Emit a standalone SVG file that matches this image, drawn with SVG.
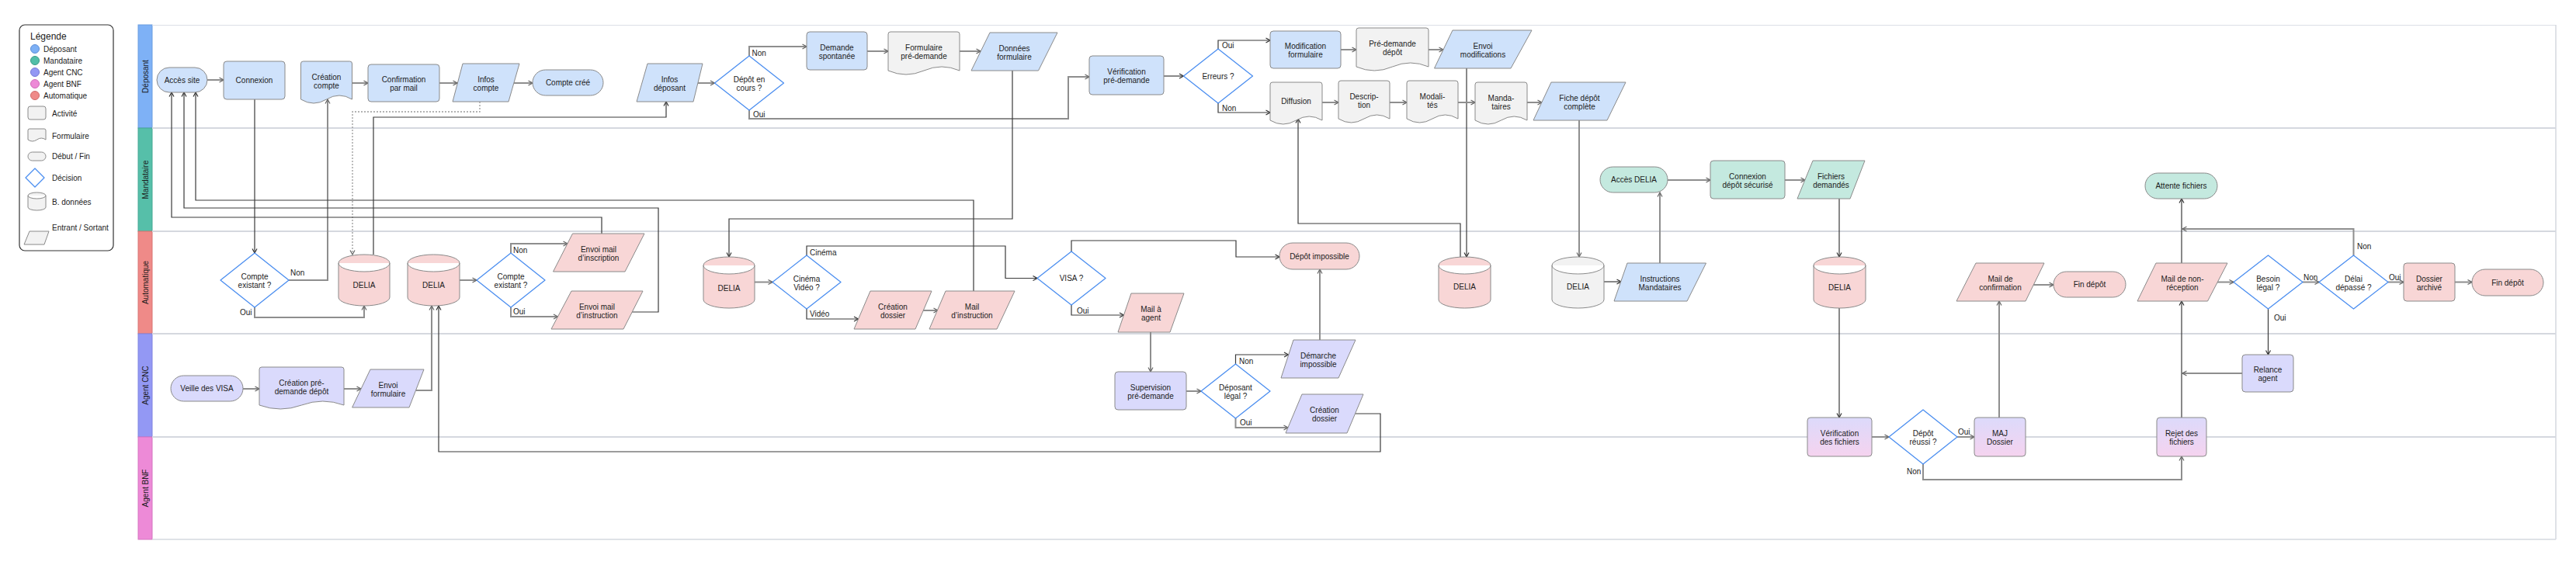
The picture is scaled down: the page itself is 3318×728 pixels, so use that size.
<svg xmlns="http://www.w3.org/2000/svg" width="3318" height="728" viewBox="0 0 3318 728">
<style>
text{font-family:"Liberation Sans",Arial,sans-serif;font-size:10px;fill:#1b1b1b}
.c{text-anchor:middle}
.nd{stroke:#8a8a8a;stroke-width:1}
.blue{fill:#cfe2fb}
.teal{fill:#c4e9df}
.pink{fill:#f8d6d6}
.lav{fill:#dadafc}
.gray{fill:#f2f2f2}
.grad{fill:url(#gr)}
.dia{fill:#fff;stroke:#4b8ef0;stroke-width:1.3;stroke-linejoin:round}
.g{fill:none;stroke:#8e8e8e;stroke-width:2;marker-end:url(#ag)}
.d{fill:none;stroke:#3a3a3a;stroke-width:1.2;marker-end:url(#ad)}
.o{fill:none;stroke:#9a9a9a;stroke-width:1.3;stroke-dasharray:2 2;marker-end:url(#ag)}
.lane{stroke:#d5d8df;stroke-width:2}
.lbl{font-size:10px}
</style>
<defs>
<marker id="ag" markerUnits="userSpaceOnUse" markerWidth="8" markerHeight="8" refX="7" refY="4" orient="auto" viewBox="0 0 8 8"><path d="M1.5,1 L7,4 L1.5,7" fill="none" stroke="#666" stroke-width="1.2"/></marker>
<marker id="ad" markerUnits="userSpaceOnUse" markerWidth="8" markerHeight="8" refX="7" refY="4" orient="auto" viewBox="0 0 8 8"><path d="M1.5,1 L7,4 L1.5,7" fill="none" stroke="#333" stroke-width="1.2"/></marker>
<linearGradient id="gr" x1="0" y1="0" x2="0" y2="1"><stop offset="0" stop-color="#dcdafb"/><stop offset="1" stop-color="#f5d3ef"/></linearGradient>
</defs>
<rect width="3318" height="728" fill="#fff"/>

<g id="legend">
<rect x="25" y="32" width="121" height="291" rx="7" fill="#fff" stroke="#333" stroke-width="1.2"/>
<text x="39" y="51" style="font-size:12px">Légende</text>
<circle cx="45" cy="63" r="5.5" fill="#7db0f5" stroke="#5d8fd8"/><text x="56" y="66.5">Déposant</text>
<circle cx="45" cy="78" r="5.5" fill="#52bea8" stroke="#3c9c88"/><text x="56" y="81.5">Mandataire</text>
<circle cx="45" cy="93" r="5.5" fill="#9398f4" stroke="#7479d6"/><text x="56" y="96.5">Agent CNC</text>
<circle cx="45" cy="108" r="5.5" fill="#ed8ad7" stroke="#cf6cb9"/><text x="56" y="111.5">Agent BNF</text>
<circle cx="45" cy="123" r="5.5" fill="#ef8a88" stroke="#d06b69"/><text x="56" y="126.5">Automatique</text>
<rect class="gray nd" x="36" y="137" width="23" height="17" rx="3"/><text x="67" y="149.5">Activité</text>
<path class="gray nd" d="M36,180 L36,168 Q36,166 38,166 L57,166 Q59,166 59,168 L59,180 Q53.25,176 47.5,180 T36,180 Z"/><text x="67" y="178.5">Formulaire</text>
<rect class="gray nd" x="36" y="196" width="23" height="11" rx="5.5"/><text x="67" y="204.5">Début / Fin</text>
<polygon class="dia" points="45,217 57,229 45,241 33,229"/><text x="67" y="232.5">Décision</text>
<path class="gray nd" d="M36,252 A11.5,4 0 0 1 59,252 L59,267 A11.5,4 0 0 1 36,267 Z M36,252 A11.5,4 0 0 0 59,252"/><text x="67" y="263.5">B. données</text>
<polygon class="gray nd" points="38,298 63,298 57,315 31,315"/><text x="67" y="296.5">Entrant / Sortant</text>
</g>

<g id="lanes">
<rect x="178" y="32" width="18" height="133" fill="#7eb1f6" stroke="#6a9de0"/>
<rect x="178" y="165" width="18" height="133" fill="#56bfa9" stroke="#44a893"/>
<rect x="178" y="298" width="18" height="132" fill="#ef8a88" stroke="#d87472"/>
<rect x="178" y="430" width="18" height="133" fill="#9398f4" stroke="#7e83e0"/>
<rect x="178" y="563" width="18" height="132" fill="#ed8ad7" stroke="#d575c0"/>
<text class="c" transform="translate(190.5,98.5) rotate(-90)">Déposant</text>
<text class="c" transform="translate(190.5,231.5) rotate(-90)">Mandataire</text>
<text class="c" transform="translate(190.5,364) rotate(-90)">Automatique</text>
<text class="c" transform="translate(190.5,496.5) rotate(-90)">Agent CNC</text>
<text class="c" transform="translate(190.5,629) rotate(-90)">Agent BNF</text>
<line x1="196" y1="32.5" x2="3292" y2="32.5" stroke="#dcdfe6" stroke-width="1"/>
<line class="lane" x1="196" y1="165" x2="3292" y2="165"/>
<line class="lane" x1="196" y1="298" x2="3292" y2="298"/>
<line class="lane" x1="196" y1="430" x2="3292" y2="430"/>
<line class="lane" x1="196" y1="563" x2="3292" y2="563"/>
<line x1="196" y1="695" x2="3292" y2="695" stroke="#d5d8df" stroke-width="1.5"/>
<line x1="3292" y1="32" x2="3292" y2="695" stroke="#d5d8df" stroke-width="1.5"/>
</g>

<g id="connectors">
<path class="g" d="M267,103 L288,103"/>
<path class="d" d="M328,128 L328,326"/>
<path class="g" d="M453.5,107 L474,107"/>
<path class="g" d="M566,107 L589,107"/>
<path class="g" d="M662,107 L686,107"/>
<path class="o" d="M618,131 L618,144 L454,144 L454,328"/>
<path class="d" d="M481,328 L481,151 L858,151 L858,131"/>
<path class="g" d="M372,361 L422,361 L422,128"/>
<path class="g" d="M328,396 L328,409 L469,409 L469,394"/>
<path class="d" d="M775,301 L775,280 L221,280 L221,119"/>
<path class="d" d="M814,402 L848,402 L848,268 L237,268 L237,119"/>
<path class="d" d="M1254,375 L1254,258 L252,258 L252,119"/>
<path class="g" d="M899,107 L920.5,107"/>
<path class="g" d="M965,72 L965,60 L1039,60"/>
<path class="g" d="M965,142 L965,153 L1376,153 L1376,99 L1403,99"/>
<path class="g" d="M1117,66 L1144,66"/>
<path class="g" d="M1236,66 L1263,66"/>
<path class="d" d="M1304,91 L1304,282 L939,282 L939,331"/>
<path class="d" d="M1499,98 L1524.5,98"/>
<path class="d" d="M1569,63 L1569,52 L1636,52"/>
<path class="d" d="M1569,133 L1569,145 L1636,145"/>
<path class="g" d="M1727,64 L1747,64"/>
<path class="g" d="M1840,64 L1859,64"/>
<path class="d" d="M1889,88 L1889,331"/>
<path class="d" d="M1881,331 L1881,288 L1672,288 L1672,153"/>
<path class="g" d="M1703,132 L1724,132"/>
<path class="g" d="M1790,132 L1812,132"/>
<path class="g" d="M1878,132 L1900,132"/>
<path class="g" d="M1967,132 L1986,132"/>
<path class="g" d="M2034,155 L2034,331"/>
<path class="d" d="M2066,363 L2088,363"/>
<path class="g" d="M2138,339 L2138,248"/>
<path class="g" d="M2148,232 L2203,232"/>
<path class="g" d="M2299,232 L2325,232"/>
<path class="d" d="M2369,256 L2369,331"/>
<path class="d" d="M2369,397 L2369,538"/>
<path class="g" d="M2411,563 L2433,563"/>
<path class="g" d="M2521,563 L2543,563"/>
<path class="g" d="M2477,598 L2477,618 L2810,618 L2810,588"/>
<path class="g" d="M2575,538 L2575,388"/>
<path class="g" d="M2619,367 L2645,367"/>
<path class="d" d="M2810,538 L2810,388"/>
<path class="d" d="M2810,339 L2810,256"/>
<path class="g" d="M2856,363.5 L2877,363.5"/>
<path class="g" d="M2966,363.5 L2987,363.5"/>
<path class="d" d="M2921.5,398 L2921.5,457"/>
<path class="g" d="M2888,481 L2811,481"/>
<path class="g" d="M3031.5,329 L3031.5,295 L2811,295"/>
<path class="g" d="M3076,363.5 L3096,363.5"/>
<path class="g" d="M3162,363.5 L3184,363.5"/>
<path class="g" d="M592,361 L614,361"/>
<path class="g" d="M658,326 L658,314 L731,314"/>
<path class="g" d="M658,396 L658,408 L718.5,408"/>
<path class="g" d="M535.5,503 L556,503 L556,394"/>
<path class="d" d="M1745.5,533 L1778,533 L1778,582 L565,582 L565,394"/>
<path class="g" d="M972,363.5 L995,363.5"/>
<path class="d" d="M1039,329 L1039,317 L1295,317 L1295,358.5 L1336,358.5"/>
<path class="d" d="M1039,398 L1039,411 L1105.5,411"/>
<path class="g" d="M1189,400 L1208,400"/>
<path class="d" d="M1380,324 L1380,310 L1592,310 L1592,331 L1648,331"/>
<path class="d" d="M1380,393 L1380,406 L1447.5,406"/>
<path class="g" d="M1482,428 L1482,479"/>
<path class="g" d="M1528,504 L1547,504"/>
<path class="d" d="M1591.5,469 L1591.5,457 L1659.5,457"/>
<path class="g" d="M1591.5,539 L1591.5,551 L1659,551"/>
<path class="g" d="M1700,438 L1700,347"/>
<path class="g" d="M313,501 L334,501"/>
<path class="g" d="M443,501 L465,501"/>
<text class="lbl" x="374" y="354.5">Non</text>
<text class="lbl" x="309" y="405.5">Oui</text>
<text class="lbl" x="968.5" y="71.5">Non</text>
<text class="lbl" x="970" y="150.5">Oui</text>
<text class="lbl" x="1574" y="61.5">Oui</text>
<text class="lbl" x="1574" y="142.5">Non</text>
<text class="lbl" x="661" y="325.5">Non</text>
<text class="lbl" x="661" y="404.5">Oui</text>
<text class="lbl" x="1043" y="328.5">Cinéma</text>
<text class="lbl" x="1043" y="407.5">Vidéo</text>
<text class="lbl" x="1387" y="403.5">Oui</text>
<text class="lbl" x="1596" y="468.5">Non</text>
<text class="lbl" x="1597" y="547.5">Oui</text>
<text class="lbl" x="2522" y="559.5">Oui</text>
<text class="lbl" x="2456" y="610.5">Non</text>
<text class="lbl" x="2967" y="360.5">Non</text>
<text class="lbl" x="2929" y="412.5">Oui</text>
<text class="lbl" x="3036" y="320.5">Non</text>
<text class="lbl" x="3077" y="360.5">Oui</text>
</g>

<g id="n-acces-site"><rect class="blue nd" x="202" y="87" width="65" height="32" rx="16"/><text class="c" x="234.5" y="106.5">Accès site</text></g>
<g id="n-connexion"><rect class="blue nd" x="288" y="79" width="79" height="49" rx="4"/><text class="c" x="327.5" y="107">Connexion</text></g>
<g id="n-creation-compte"><path class="blue nd" d="M387.5,128 L387.5,82 Q387.5,79 390.5,79 L450.5,79 Q453.5,79 453.5,82 L453.5,128 Q437,118 420.5,128 T387.5,128 Z"/><text class="c" x="420.5" y="102.5">Création<tspan x="420.5" y="113.5">compte</tspan></text></g>
<g id="n-confirmation"><rect class="blue nd" x="474" y="83" width="92" height="48" rx="4"/><text class="c" x="520" y="106">Confirmation<tspan x="520" y="117">par mail</tspan></text></g>
<g id="n-infos-compte"><polygon class="blue nd" points="596,82 669,82 655,131 583,131"/><text class="c" x="626" y="105.5">Infos<tspan x="626" y="116.5">compte</tspan></text></g>
<g id="n-compte-cree"><rect class="blue nd" x="686" y="90" width="91" height="33" rx="16.5"/><text class="c" x="731.5" y="110">Compte créé</text></g>
<g id="n-infos-deposant"><polygon class="blue nd" points="834,82 905,82 893,131 820,131"/><text class="c" x="862.5" y="105.5">Infos<tspan x="862.5" y="116.5">déposant</tspan></text></g>
<g id="n-depot-en-cours"><polygon class="dia" points="965,72 1009.5,107 965,142 920.5,107"/><text class="c" x="965" y="106">Dépôt en<tspan x="965" y="117">cours ?</tspan></text></g>
<g id="n-demande-spontanee"><rect class="blue nd" x="1039" y="41" width="78" height="49" rx="4"/><text class="c" x="1078" y="64.5">Demande<tspan x="1078" y="75.5">spontanée</tspan></text></g>
<g id="n-formulaire-pre"><path class="gray nd" d="M1144,91 L1144,44 Q1144,41 1147,41 L1233,41 Q1236,41 1236,44 L1236,91 Q1213,81 1190,91 T1144,91 Z"/><text class="c" x="1190" y="65">Formulaire<tspan x="1190" y="76">pré-demande</tspan></text></g>
<g id="n-donnees"><polygon class="blue nd" points="1275,42 1362,42 1337.5,91 1251,91"/><text class="c" x="1306.5" y="65.5">Données<tspan x="1306.5" y="76.5">formulaire</tspan></text></g>
<g id="n-verif-pre"><rect class="blue nd" x="1403" y="72" width="96" height="50" rx="4"/><text class="c" x="1451" y="96">Vérification<tspan x="1451" y="107">pré-demande</tspan></text></g>
<g id="n-erreurs"><polygon class="dia" points="1569,63 1613.5,98 1569,133 1524.5,98"/><text class="c" x="1569" y="101.5">Erreurs ?</text></g>
<g id="n-modif-form"><rect class="blue nd" x="1636" y="40" width="91" height="48" rx="4"/><text class="c" x="1681.5" y="63">Modification<tspan x="1681.5" y="74">formulaire</tspan></text></g>
<g id="n-pre-demande-depot"><path class="gray nd" d="M1747,86 L1747,39 Q1747,36 1750,36 L1837,36 Q1840,36 1840,39 L1840,86 Q1816.75,76 1793.5,86 T1747,86 Z"/><text class="c" x="1793.5" y="60">Pré-demande<tspan x="1793.5" y="71">dépôt</tspan></text></g>
<g id="n-envoi-modifs"><polygon class="blue nd" points="1871,39 1973,39 1946,88 1847.5,88"/><text class="c" x="1910" y="62.5">Envoi<tspan x="1910" y="73.5">modifications</tspan></text></g>
<g id="n-diffusion"><path class="gray nd" d="M1636,155 L1636,109 Q1636,106 1639,106 L1700,106 Q1703,106 1703,109 L1703,155 Q1686.25,145 1669.5,155 T1636,155 Z"/><text class="c" x="1669.5" y="134">Diffusion</text></g>
<g id="n-description"><path class="gray nd" d="M1724,153 L1724,107 Q1724,104 1727,104 L1787,104 Q1790,104 1790,107 L1790,153 Q1773.5,143 1757,153 T1724,153 Z"/><text class="c" x="1757" y="127.5">Descrip-<tspan x="1757" y="138.5">tion</tspan></text></g>
<g id="n-modalites"><path class="gray nd" d="M1812,153 L1812,107 Q1812,104 1815,104 L1875,104 Q1878,104 1878,107 L1878,153 Q1861.5,143 1845,153 T1812,153 Z"/><text class="c" x="1845" y="127.5">Modali-<tspan x="1845" y="138.5">tés</tspan></text></g>
<g id="n-mandataires"><path class="gray nd" d="M1900,155 L1900,109 Q1900,106 1903,106 L1964,106 Q1967,106 1967,109 L1967,155 Q1950.25,145 1933.5,155 T1900,155 Z"/><text class="c" x="1933.5" y="129.5">Manda-<tspan x="1933.5" y="140.5">taires</tspan></text></g>
<g id="n-fiche-depot"><polygon class="blue nd" points="1998,106 2094,106 2070,155 1975,155"/><text class="c" x="2034.5" y="129.5">Fiche dépôt<tspan x="2034.5" y="140.5">complète</tspan></text></g>

<g id="n-acces-delia"><rect class="teal nd" x="2061" y="215" width="87" height="33" rx="16.5"/><text class="c" x="2104.5" y="235">Accès DELIA</text></g>
<g id="n-connexion-depot"><rect class="teal nd" x="2203" y="207" width="96" height="49" rx="4"/><text class="c" x="2251" y="230.5">Connexion<tspan x="2251" y="241.5">dépôt sécurisé</tspan></text></g>
<g id="n-fichiers-demandes"><polygon class="teal nd" points="2335,207 2402,207 2383,256 2315,256"/><text class="c" x="2358.5" y="230.5">Fichiers<tspan x="2358.5" y="241.5">demandés</tspan></text></g>
<g id="n-attente-fichiers"><rect class="teal nd" x="2763" y="223" width="93" height="33" rx="16.5"/><text class="c" x="2809.5" y="243">Attente fichiers</text></g>

<g id="n-compte-existant-1"><polygon class="dia" points="328,326 372,361 328,396 284,361"/><text class="c" x="328" y="360">Compte<tspan x="328" y="371">existant ?</tspan></text></g>
<g id="n-delia-1"><path class="pink nd" d="M436,339 A33,11 0 0 1 502,339 L502,383 A33,11 0 0 1 436,383 Z M436,339 A33,11 0 0 0 502,339"/><text class="c" x="469" y="371">DELIA</text></g>
<g id="n-delia-2"><path class="pink nd" d="M525,339 A33.5,11 0 0 1 592,339 L592,383 A33.5,11 0 0 1 525,383 Z M525,339 A33.5,11 0 0 0 592,339"/><text class="c" x="558.5" y="371">DELIA</text></g>
<g id="n-compte-existant-2"><polygon class="dia" points="658,326 702,361 658,396 614,361"/><text class="c" x="658" y="360">Compte<tspan x="658" y="371">existant ?</tspan></text></g>
<g id="n-envoi-mail-inscription"><polygon class="pink nd" points="737.5,301 830,301 805,350 712.5,350"/><text class="c" x="771" y="324.5">Envoi mail<tspan x="771" y="335.5">d’inscription</tspan></text></g>
<g id="n-envoi-mail-instruction"><polygon class="pink nd" points="736,375 828,375 803,424 710,424"/><text class="c" x="769" y="398.5">Envoi mail<tspan x="769" y="409.5">d’instruction</tspan></text></g>
<g id="n-delia-3"><path class="pink nd" d="M906,342 A33,11 0 0 1 972,342 L972,386 A33,11 0 0 1 906,386 Z M906,342 A33,11 0 0 0 972,342"/><text class="c" x="939" y="374.5">DELIA</text></g>
<g id="n-cinema-video"><polygon class="dia" points="1039,329 1083,363.5 1039,398 995,363.5"/><text class="c" x="1039" y="362.5">Cinéma<tspan x="1039" y="373.5">Vidéo ?</tspan></text></g>
<g id="n-creation-dossier-auto"><polygon class="pink nd" points="1121,375 1200,375 1179,424 1100,424"/><text class="c" x="1150" y="398.5">Création<tspan x="1150" y="409.5">dossier</tspan></text></g>
<g id="n-mail-instruction"><polygon class="pink nd" points="1218,375 1307,375 1284,424 1197,424"/><text class="c" x="1252" y="398.5">Mail<tspan x="1252" y="409.5">d’instruction</tspan></text></g>
<g id="n-visa"><polygon class="dia" points="1380,324 1424,358.5 1380,393 1336,358.5"/><text class="c" x="1380" y="362">VISA ?</text></g>
<g id="n-mail-agent"><polygon class="pink nd" points="1457,378 1525,378 1507,428 1440,428"/><text class="c" x="1482.5" y="402">Mail à<tspan x="1482.5" y="413">agent</tspan></text></g>
<g id="n-depot-impossible"><rect class="pink nd" x="1648" y="313" width="103" height="34" rx="17"/><text class="c" x="1699.5" y="333.5">Dépôt impossible</text></g>
<g id="n-delia-4"><path class="pink nd" d="M1853,342 A33.5,11 0 0 1 1920,342 L1920,386 A33.5,11 0 0 1 1853,386 Z M1853,342 A33.5,11 0 0 0 1920,342"/><text class="c" x="1886.5" y="373">DELIA</text></g>
<g id="n-delia-5"><path class="gray nd" d="M1999,342 A33.5,11 0 0 1 2066,342 L2066,386 A33.5,11 0 0 1 1999,386 Z M1999,342 A33.5,11 0 0 0 2066,342"/><text class="c" x="2032.5" y="373">DELIA</text></g>
<g id="n-instructions-mandataires"><polygon class="blue nd" points="2096,339 2197.5,339 2173,388 2079,388"/><text class="c" x="2138" y="362.5">Instructions<tspan x="2138" y="373.5">Mandataires</tspan></text></g>
<g id="n-delia-6"><path class="pink nd" d="M2336,342 A33.5,11 0 0 1 2403,342 L2403,386 A33.5,11 0 0 1 2336,386 Z M2336,342 A33.5,11 0 0 0 2403,342"/><text class="c" x="2369.5" y="374">DELIA</text></g>
<g id="n-mail-confirmation"><polygon class="pink nd" points="2545,339 2633,339 2609,388 2520,388"/><text class="c" x="2576.5" y="362.5">Mail de<tspan x="2576.5" y="373.5">confirmation</tspan></text></g>
<g id="n-fin-depot-1"><rect class="pink nd" x="2645" y="350" width="93" height="33" rx="16.5"/><text class="c" x="2691.5" y="370">Fin dépôt</text></g>
<g id="n-mail-non-reception"><polygon class="pink nd" points="2777,339 2869,339 2843.5,388 2753,388"/><text class="c" x="2811" y="362.5">Mail de non-<tspan x="2811" y="373.5">réception</tspan></text></g>
<g id="n-besoin-legal"><polygon class="dia" points="2921.5,329 2966,363.5 2921.5,398 2877,363.5"/><text class="c" x="2921.5" y="362.5">Besoin<tspan x="2921.5" y="373.5">légal ?</tspan></text></g>
<g id="n-delai"><polygon class="dia" points="3031.5,329 3076,363.5 3031.5,398 2987,363.5"/><text class="c" x="3031.5" y="362.5">Délai<tspan x="3031.5" y="373.5">dépassé ?</tspan></text></g>
<g id="n-dossier-archive"><rect class="pink nd" x="3096" y="339" width="66" height="49" rx="4"/><text class="c" x="3129" y="362.5">Dossier<tspan x="3129" y="373.5">archivé</tspan></text></g>
<g id="n-fin-depot-2"><rect class="pink nd" x="3184" y="347" width="92" height="34" rx="17"/><text class="c" x="3230" y="367.5">Fin dépôt</text></g>

<g id="n-veille-visa"><rect class="lav nd" x="220" y="484" width="93" height="33" rx="16.5"/><text class="c" x="266.5" y="504">Veille des VISA</text></g>
<g id="n-creation-pre-demande"><path class="lav nd" d="M334,522 L334,476 Q334,473 337,473 L440,473 Q443,473 443,476 L443,522 Q415.75,512 388.5,522 T334,522 Z"/><text class="c" x="388.5" y="496.5">Création pré-<tspan x="388.5" y="507.5">demande dépôt</tspan></text></g>
<g id="n-envoi-formulaire"><polygon class="lav nd" points="477,476 546,476 527,525 453.6,525"/><text class="c" x="500" y="499.5">Envoi<tspan x="500" y="510.5">formulaire</tspan></text></g>
<g id="n-supervision"><rect class="lav nd" x="1436" y="479" width="92" height="49" rx="4"/><text class="c" x="1482" y="502.5">Supervision<tspan x="1482" y="513.5">pré-demande</tspan></text></g>
<g id="n-deposant-legal"><polygon class="dia" points="1591.5,469 1636,504 1591.5,539 1547,504"/><text class="c" x="1591.5" y="503">Déposant<tspan x="1591.5" y="514">légal ?</tspan></text></g>
<g id="n-demarche-impossible"><polygon class="lav nd" points="1666,438 1746,438 1724,487 1650,487"/><text class="c" x="1698" y="461.5">Démarche<tspan x="1698" y="472.5">impossible</tspan></text></g>
<g id="n-creation-dossier-cnc"><polygon class="lav nd" points="1677,508 1756,508 1735,558 1656,558"/><text class="c" x="1706" y="532">Création<tspan x="1706" y="543">dossier</tspan></text></g>
<g id="n-relance-agent"><rect class="lav nd" x="2888" y="457" width="66" height="48" rx="4"/><text class="c" x="2921" y="480">Relance<tspan x="2921" y="491">agent</tspan></text></g>

<g id="n-verif-fichiers"><rect class="grad nd" x="2328" y="538" width="83" height="50" rx="4"/><text class="c" x="2369.5" y="562">Vérification<tspan x="2369.5" y="573">des fichiers</tspan></text></g>
<g id="n-depot-reussi"><polygon class="dia" points="2477,528 2521,563 2477,598 2433,563"/><text class="c" x="2477" y="562">Dépôt<tspan x="2477" y="573">réussi ?</tspan></text></g>
<g id="n-maj-dossier"><rect class="grad nd" x="2543" y="538" width="66" height="50" rx="4"/><text class="c" x="2576" y="562">MAJ<tspan x="2576" y="573">Dossier</tspan></text></g>
<g id="n-rejet-fichiers"><rect class="grad nd" x="2778" y="538" width="64" height="50" rx="4"/><text class="c" x="2810" y="562">Rejet des<tspan x="2810" y="573">fichiers</tspan></text></g>
</svg>
